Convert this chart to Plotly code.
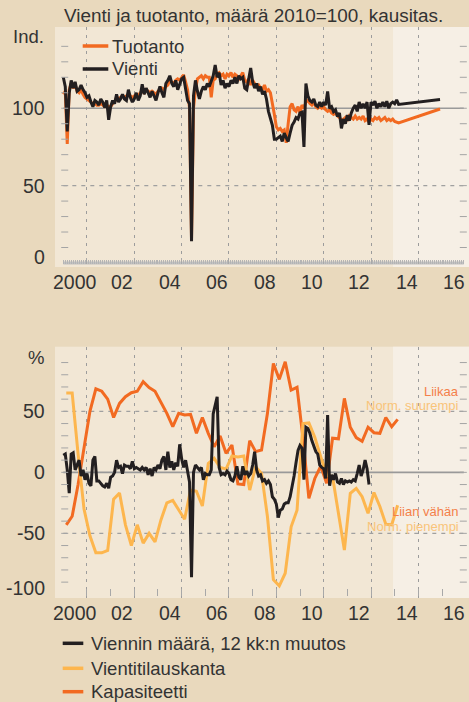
import numpy as np
import plotly.graph_objects as go

# ---------------- DATA ----------------
# Top panel: monthly index 2010=100, from Jan 2000
vienti = [120, 114, 85, 110, 118, 113, 117, 111, 112, 115, 112, 110,
          107, 108, 104, 101, 105, 104, 102, 106, 104, 100.5, 105, 92.5,
          101, 105, 103, 109, 104, 106, 109, 106, 105, 112, 107, 104,
          106, 110, 105, 108, 115.5, 109, 113, 110, 107, 111, 108, 105,
          110, 114, 110, 107, 116, 118, 121, 116, 114, 118, 112, 116,
          119, 120, 111, 105, 103, 14, 108, 118, 111, 106, 111, 114,
          112, 116, 114, 117, 121, 128, 120, 123, 115, 118, 113, 116,
          114, 118, 116, 120, 116, 121, 119, 120, 113, 112, 119, 126,
          117, 113, 116, 111, 114, 109, 111, 106, 98, 94, 89, 80,
          80, 81, 82, 78.5, 84, 81, 78.5, 84, 89, 91, 94, 93,
          97, 97.5, 75, 116, 108, 105, 104, 106, 102, 101, 104, 101,
          104, 102, 110.8, 100, 101, 97.8, 99, 94.6, 97, 87, 93, 90,
          95.5, 92, 97, 100, 102, 98, 104, 100, 102.8, 100, 104, 89.3,
          104, 102, 104.5, 100, 103, 101, 104, 101, 104.5, 100, 103, 104,
          103, 105.4, 102.5]
tuotanto = [109, 111, 77, 112, 116, 113, 115, 111, 110, 112, 109, 107,
            106, 105, 104, 103, 103, 102, 102, 103, 102, 101, 102, 101,
            101, 103, 104, 107, 106, 107, 108, 107, 108, 109, 108, 107,
            108, 109, 108, 110, 111, 110, 112, 111, 110, 111, 110, 109,
            111, 112, 113, 112, 114, 115, 118, 117, 116, 118, 119, 118,
            120, 121.6, 117, 112, 100, 16, 100, 112, 119, 120, 121, 119,
            121, 120, 120, 107, 118, 119, 122, 123, 121, 122, 119, 122,
            121, 123, 120, 122, 121, 119, 121, 123, 118, 117, 119, 115,
            118, 116, 114, 115, 113, 112, 115, 111, 112, 110, 104, 96,
            88, 86, 87, 85, 86, 77.6, 90, 101, 103, 99, 98, 101,
            97, 102, 100, 104, 105, 103, 102, 104, 101, 100, 101, 100,
            101, 99, 98, 99, 97, 96, 97, 95, 94, 92, 93, 94,
            92, 95, 94, 93, 95, 93, 94, 93, 95, 92, 93, 91,
            93, 92, 94, 93, 94, 92, 93, 94, 92, 93, 92, 93,
            91.5, 91, 90.5]
# forecast (end of 2015)
forecast_end_t = 2015 + 11 / 12
vienti_forecast_end = 105.6
tuotanto_forecast_end = 99.5

# Bottom panel
viennin_muutos = [14, 15, 2, -17, 15, 16, 2, 7, 10, -3, 2, -6,
                  -1, -9, -11, 10, 13, -7, -7, -9, -11, -12, -9, -13,
                  -4, -3, 0, 10, 4, 5, -1, 6, 5, 5, 3, 9,
                  3, 4, 3, 2, 4, 2, 4, -2, 3, -3, 4, 2,
                  6, 3, 10, 13, 2, 17, 4, 9, 2, 8, 5, 23,
                  11, 4, 10, 1, -8, -86, 0, 6, 4, 2, 4, -6,
                  -1, -2, -2, 2, 48, 54, 62, 4, -2, -1, -2, 1,
                  -1, -6, -7, -3, 5, -4, -6, 5, -2, 1, -3, -1,
                  6, 17, 2, -3, -2, -7, -6, -9, -7, -10, -20, -22,
                  -26, -37, -31, -30, -26, -25, -25, -20, -12, -3, 8, 18,
                  22, 20, -6, 37, 36, 32, 26, 21, 17, 15, 6, 4,
                  3, -5, 47, -11, -2, -6, -1, -8, -9, -5, -10, -7,
                  -8, -7, -8, -6, -7, -1, 6, -3, 2, 10, 3, -10]
vientitilauskanta = [65, 65, 15, -30, -52, -66, -66, -64, -22, -17, -43, -60,
                     -43, -58, -50, -57, -39, -25, -23, -31, -38.5, -14.5, -15.5, -27.6,
                     7.3, 11.5, 4, 2.7, 13.4, 12.6, 13.4, -14.5, 4.6, -0.8, -36.4, -88,
                     -93, -82.7, -44.6, -31, 40, 40.5, 28.7, 12.8, -2.2, -3.6, -33.6, -63.7,
                     -17.2, -13.1, -20, -33.6, -16.5, -28, -42.5, -43, -27]
kapasiteetti = [-43, -36, -10, 22, 50, 68.5, 66.5, 60, 45, 56.5, 62, 65.3,
                66.5, 74.3, 69.5, 66.5, 57, 48.4, 37.5, 48.4, 47, 47.5, 32, 45,
                32, 21, 29.8, 15.6, 22.4, -9.5, -10, 26, 17, 18.3, 48.4, 89.3,
                76.2, 90.7, 67.5, 69.7, 28, -21.3, -5, 5, -9, 28, 27.5, 60.6,
                37, 28.5, 25.5, 37, 32.5, 32, 45, 37.4, 43.4]

x_labels = ["2000", "02", "04", "06", "08", "10", "12", "14", "16"]
top_ytick_vals = [0, 50, 100]
bot_ytick_vals = [-100, -50, 0, 50]
top_minor_y = list(range(10, 150, 10))
bot_minor_y = list(range(-90, 100, 10))

# time coordinates
t_top = 2000 + np.arange(len(vienti)) / 12
t_bot_m = 2000 + np.arange(len(viennin_muutos)) / 12
t_bot_q = 2000.125 + 0.25 * np.arange(len(vientitilauskanta))

# ---------------- STYLE ----------------
W, H = 469, 702
ORANGE = "#f26a21"
YELLOW = "#fdb64e"
BLACK = "#231f20"
TXT = "#333333"
GRID = "#9c9c9c"
FONT = "Liberation Sans, Arial, sans-serif"
XR = [1999.649, 2017.14]
FC_START = 2013.93
LINE_END = 2016.92

def py(p):
    return 1 - p / H

fig = go.Figure()

# top traces
fig.add_trace(go.Scatter(x=list(t_top) + [forecast_end_t], y=tuotanto + [tuotanto_forecast_end],
                         mode="lines", line=dict(color=ORANGE, width=3), xaxis="x", yaxis="y",
                         hoverinfo="skip", showlegend=False))
fig.add_trace(go.Scatter(x=list(t_top) + [forecast_end_t], y=vienti + [vienti_forecast_end],
                         mode="lines", line=dict(color=BLACK, width=3), xaxis="x", yaxis="y",
                         hoverinfo="skip", showlegend=False))
# bottom traces
fig.add_trace(go.Scatter(x=t_bot_q, y=kapasiteetti, mode="lines",
                         line=dict(color=ORANGE, width=3), xaxis="x2", yaxis="y2",
                         hoverinfo="skip", showlegend=False))
fig.add_trace(go.Scatter(x=t_bot_q, y=vientitilauskanta, mode="lines",
                         line=dict(color=YELLOW, width=3), xaxis="x2", yaxis="y2",
                         hoverinfo="skip", showlegend=False))
fig.add_trace(go.Scatter(x=t_bot_m, y=viennin_muutos, mode="lines",
                         line=dict(color=BLACK, width=3), xaxis="x2", yaxis="y2",
                         hoverinfo="skip", showlegend=False))

# small y tick dashes (left and right)
for xa, ya, vals in (("x", "y", top_minor_y), ("x2", "y2", bot_minor_y)):
    for xpos in (2000.06, 2016.9):
        fig.add_trace(go.Scatter(x=[xpos] * len(vals), y=vals, mode="markers",
                                 marker=dict(symbol="line-ew", size=5,
                                             line=dict(color="#a4a4a4", width=1)),
                                 xaxis=xa, yaxis=ya, hoverinfo="skip", showlegend=False))

odd_years = list(range(2001, 2016, 2))
months = list(2000 + np.arange(0, 204) / 12)
years = list(range(2001, 2017))

common_x = dict(range=XR, domain=[55 / W, 1], showticklabels=False, zeroline=False,
                showline=False, tickmode="array", tickvals=odd_years,
                showgrid=True, gridcolor=GRID, griddash="3px,5px", gridwidth=1,
                anchor="free", ticks="inside", tickcolor="#a8a8a8", tickwidth=1)

fig.update_layout(
    width=W, height=H, margin=dict(l=0, r=0, t=0, b=0),
    paper_bgcolor="#e9d9bd", plot_bgcolor="#f2e7d5",
    font=dict(family=FONT, color=TXT),
    xaxis=dict(**common_x, position=py(264), ticklen=6,
               minor=dict(tickmode="array", tickvals=months, ticks="inside", ticklen=4,
                          tickcolor="#b4b4b4", tickwidth=1, showgrid=False)),
    yaxis=dict(domain=[py(267), py(27)], range=[-2.6, 152.5], showgrid=False,
               zeroline=False, showticklabels=False, ticks=""),
    xaxis2=dict(**common_x, position=py(596), ticklen=7,
                minor=dict(tickmode="array", tickvals=years, ticks="inside", ticklen=7,
                           tickcolor="#a8a8a8", tickwidth=1, showgrid=False)),
    yaxis2=dict(domain=[py(598), py(346.7)], range=[-103, 103], showgrid=False,
                zeroline=False, showticklabels=False, ticks=""),
)

shapes = []
# forecast shading
for xr, yr in (("x", "y domain"), ("x2", "y2 domain")):
    shapes.append(dict(type="rect", xref=xr, yref=yr, x0=FC_START, x1=XR[1], y0=0, y1=1,
                       fillcolor="#f6efe5", line=dict(width=0), layer="below"))
# horizontal reference lines
shapes.append(dict(type="line", xref="x", yref="y", x0=2000, x1=LINE_END, y0=100, y1=100,
                   line=dict(color="#9a9a9a", width=1.3), layer="between"))
shapes.append(dict(type="line", xref="x", yref="y", x0=2000, x1=LINE_END, y0=50, y1=50,
                   line=dict(color="#a0a0a0", width=1.2, dash="4px,5px"), layer="between"))
shapes.append(dict(type="line", xref="x", yref="y", x0=2000, x1=LINE_END, y0=0, y1=0,
                   line=dict(color="#c2c2c2", width=3), layer="between"))
shapes.append(dict(type="line", xref="x2", yref="y2", x0=2000, x1=LINE_END, y0=0, y1=0,
                   line=dict(color="#999999", width=1.6), layer="between"))
for v in (50, -50):
    shapes.append(dict(type="line", xref="x2", yref="y2", x0=2000, x1=LINE_END, y0=v, y1=v,
                       line=dict(color="#a0a0a0", width=1.2, dash="4px,5px"), layer="between"))
# legend swatches
leg = [(46, ORANGE, 82.7, 108.3), (69, BLACK, 82.7, 108.3),
       (643.3, BLACK, 62.7, 83.3), (668.3, YELLOW, 62.7, 83.3), (691.7, ORANGE, 62.7, 83.3)]
for yy, c, xa, xb in leg:
    shapes.append(dict(type="line", xref="paper", yref="paper", x0=xa / W, x1=xb / W,
                       y0=py(yy), y1=py(yy), line=dict(color=c, width=3.5)))
fig.update_layout(shapes=shapes)

ann = []
def text(s, x, y, size, color=TXT, xanchor="left", xref="paper", yref="paper", yshift=0):
    ann.append(dict(text=s, x=x, y=y, xref=xref, yref=yref, xanchor=xanchor, yanchor="middle",
                    showarrow=False, font=dict(size=size, color=color, family=FONT),
                    yshift=yshift))

text("Vienti ja tuotanto, määrä 2010=100, kausitas.", 62 / W, py(15.5), 18.9)
text("Ind.", 45.5 / W, py(37), 18.5, xanchor="right")
text("%", 45.5 / W, py(357), 18.5, xanchor="right")
for v in top_ytick_vals:
    text(str(v), 46.5 / W, v, 19.5, xanchor="right", yref="y", yshift=6 if v == 0 else 0)
for v in bot_ytick_vals:
    text(str(v), 46.5 / W, v, 19.5, xanchor="right", yref="y2", yshift=6 if v == -100 else 0)
for i, lab in enumerate(x_labels):
    xv = 2000.5 + 2 * i
    text(lab, xv, py(282), 19.5, xanchor="center", xref="x")
    text(lab, xv, py(613.3), 19.5, xanchor="center", xref="x2")
text("Tuotanto", 109.5 / W, py(46), 18.5)
text("Vienti", 109.5 / W, py(69), 18.5)
text("Viennin määrä, 12 kk:n muutos", 88.5 / W, py(643.3), 18.5)
text("Vientitilauskanta", 88.5 / W, py(668.3), 18.5)
text("Kapasiteetti", 88.5 / W, py(691.7), 18.5)
text("Liikaa", 461 / W, py(391.5), 13, color="#f4804a", xanchor="right")
text("Norm. suurempi", 461 / W, py(405.5), 13, color="#f9c47a", xanchor="right")
text("Liian vähän", 461 / W, py(511.5), 13, color="#f4804a", xanchor="right")
text("Norm. pienempi", 461 / W, py(526), 13, color="#f9c47a", xanchor="right")
fig.update_layout(annotations=ann)

fig.write_html("out.html", config={"displayModeBar": False},
               post_script="document.body.style.margin='0';document.body.style.overflow='hidden';")
